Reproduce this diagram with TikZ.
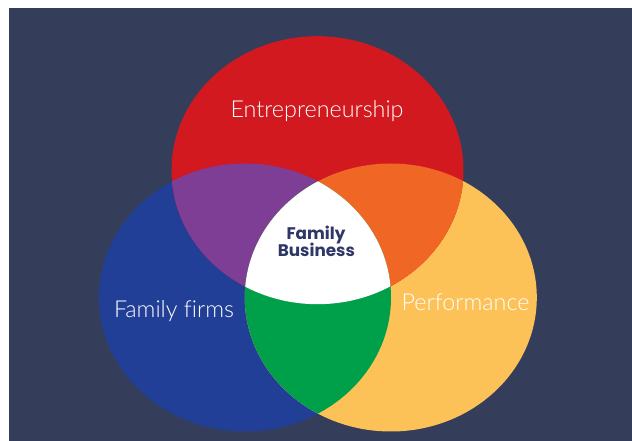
\documentclass[tikz,border=0pt]{standalone}
\usepackage{fontspec}
\setmainfont{Lato}[UprightFont=* Light]
\newfontfamily\boldfam{Poppins}
\definecolor{bgc}{HTML}{343E5B}
\definecolor{redc}{HTML}{D1191F}
\definecolor{bluec}{HTML}{213F96}
\definecolor{yellowc}{HTML}{FDC257}
\definecolor{purplec}{HTML}{7E3E96}
\definecolor{orangec}{HTML}{F06624}
\definecolor{greenc}{HTML}{00A04B}
\definecolor{navytext}{HTML}{2E3766}
\tikzset{
  biglabel/.style={text=white, inner sep=0pt, anchor=base, font=\fontsize{17.5}{20}\selectfont},
  centerlabel/.style={text=navytext, inner sep=0pt, anchor=base, font=\boldfam\bfseries\fontsize{12.6}{14}\selectfont}
}
\def\RedE{(317.5,170.2) ellipse [x radius=146, y radius=134]}
\def\BlueE{(245,297.5) ellipse [x radius=146, y radius=134]}
\def\YellowE{(390.8,297.5) ellipse [x radius=146, y radius=134]}
\begin{document}
\begin{tikzpicture}[x=0.75pt,y=-0.75pt]
\useasboundingbox (0,0) rectangle (632,441);
\fill[white] (0,0) rectangle (632,441);
\fill[bgc] (9,8) rectangle (632,441);
\fill[bluec] \BlueE;
\fill[yellowc] \YellowE;
\fill[redc] \RedE;
\begin{scope}
  \clip \RedE;
  \fill[purplec] \BlueE;
  \fill[orangec] \YellowE;
\end{scope}
\begin{scope}
  \clip \BlueE;
  \fill[greenc] \YellowE;
  \clip \YellowE;
  \fill[white] \RedE;
\end{scope}
\node[biglabel] (ent) at (317,118) {Entrepreneurship};
\node[biglabel] (ff) at (174,317.7) {Family f\kern0pt irms};
\node[biglabel] (perf) at (465.5,310.7) {Performance};
\node[centerlabel] (fam) at (316,240) {Family};
\node[centerlabel] (bus) at (316.4,256.7) {Business};
\end{tikzpicture}
\end{document}
